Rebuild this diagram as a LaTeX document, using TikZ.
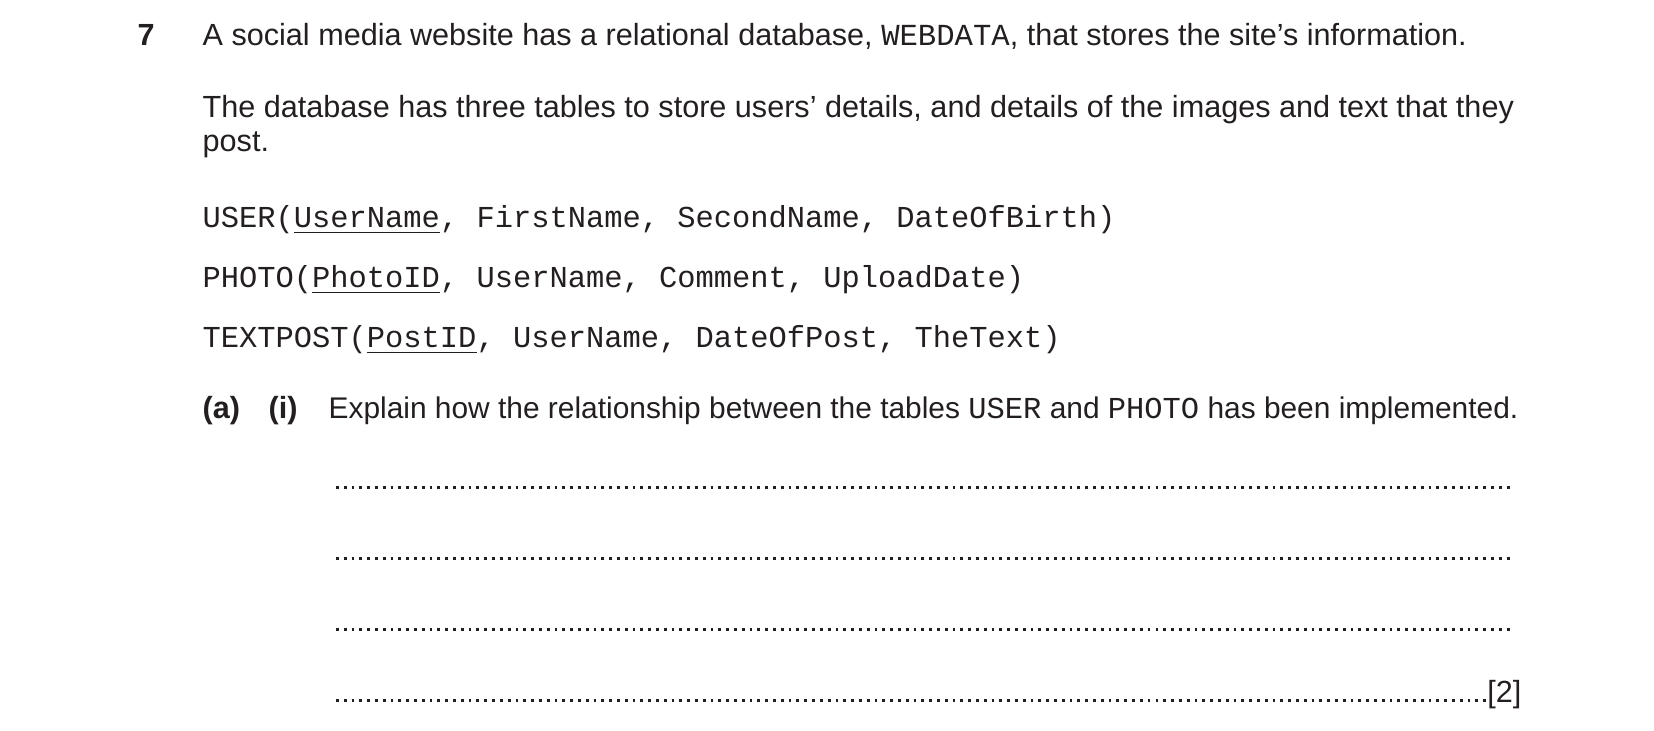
\documentclass[tikz,border=0pt]{standalone}
\usepackage{fontspec}
\setmainfont{Liberation Sans}
\setmonofont{Liberation Mono}
\definecolor{ink}{HTML}{231F20}

\tikzset{
  txt/.style={anchor=base west, inner sep=0pt, text=ink,
    font=\fontsize{8.7}{10}\selectfont},
  code/.style={txt, font=\fontsize{8.65}{10}\selectfont\ttfamily},
  answer/.style={ink, line width=0.03cm, dash pattern=on 0.028cm off 0.05cm}
}

\begin{document}
\begin{tikzpicture}[x=0.01cm, y=-0.01cm]

    \useasboundingbox (0,0) rectangle (1654,730);

    \node[txt, font=\fontsize{8.7}{10}\selectfont\bfseries] (num) at (137,45) {7};
    \node[txt] (intro) at (202,45) {A social media website has a relational database, \texttt{WEBDATA}, that stores the site’s information.};

    \node[txt] (tables) at (202,117) {The database has three tables to store users’ details, and details of the images and text that they};
    \node[txt] (post) at (202,151) {post.};

    \node[code] (user) at (202,227) {USER(\underline{UserName}, FirstName, SecondName, DateOfBirth)};
    \node[code] (photo) at (202,287) {PHOTO(\underline{PhotoID}, UserName, Comment, UploadDate)};
    \node[code] (textpost) at (202,347) {TEXTPOST(\underline{PostID}, UserName, DateOfPost, TheText)};

    \node[txt, font=\fontsize{8.7}{10}\selectfont\bfseries] (parta) at (202,418) {(a)};
    \node[txt, font=\fontsize{8.7}{10}\selectfont\bfseries] (parti) at (268,418) {(i)};
    \node[txt, font=\fontsize{8.5}{10}\selectfont] (question) at (328,418) {Explain how the relationship between the tables {\fontsize{8.65}{10}\selectfont\ttfamily USER} and {\fontsize{8.65}{10}\selectfont\ttfamily PHOTO} has been implemented.};

    \node[txt, anchor=base east] (mark) at (1522,702) {[2]};

    % answer lines
    \foreach \y in {489,560,631}
        \draw[answer] (336,\y-1.5) -- (1514,\y-1.5);
    \draw[answer] (336,700.5) -- (1486,700.5);

\end{tikzpicture}
\end{document}
